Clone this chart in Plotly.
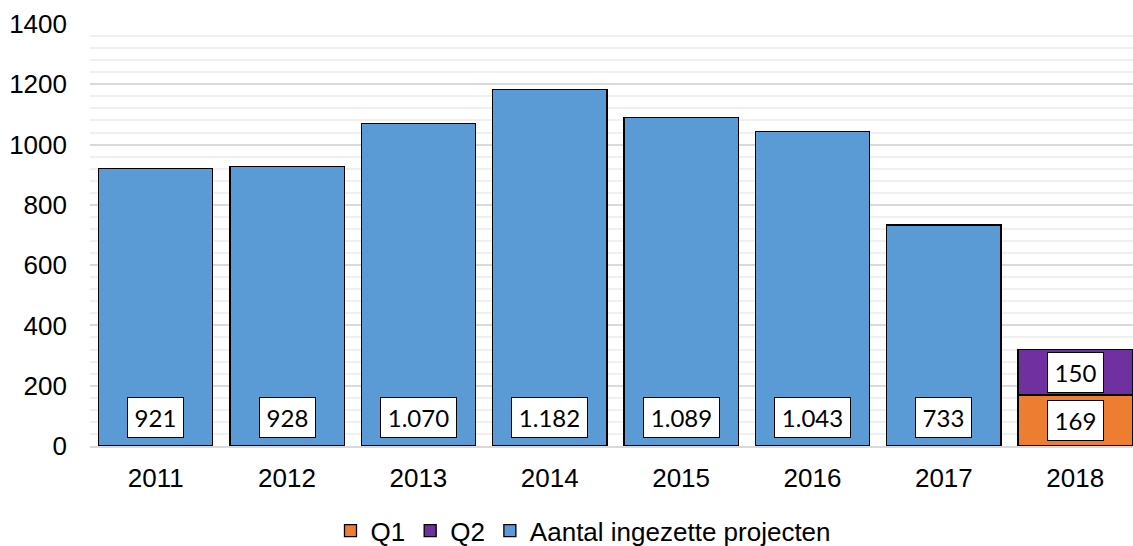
import plotly.graph_objects as go

years = ["2011", "2012", "2013", "2014", "2015", "2016", "2017", "2018"]
aantal_years = ["2011", "2012", "2013", "2014", "2015", "2016", "2017"]
aantal_values = [921, 928, 1070, 1182, 1089, 1043, 733]
q_years = ["2018"]
q1_values = [169]
q2_values = [150]
y_ticks = [0, 200, 400, 600, 800, 1000, 1200, 1400]

BLUE = "#5B9BD5"
ORANGE = "#ED7D31"
PURPLE = "#7030A0"


def nl(v):
    return f"{v:,}".replace(",", ".")


fig = go.Figure()
line = dict(color="#000000", width=1.3)
fig.add_trace(go.Bar(name="Q1", x=q_years, y=q1_values, marker=dict(color=ORANGE, line=line)))
fig.add_trace(go.Bar(name="Q2", x=q_years, y=q2_values, marker=dict(color=PURPLE, line=line)))
fig.add_trace(go.Bar(name="Aantal ingezette projecten", x=aantal_years, y=aantal_values,
                     marker=dict(color=BLUE, line=line)))

label_font = dict(family="Lato", size=24, color="#000000")

annotations = []


def box(x, y, text, yanchor="middle", yshift=0):
    w = 75 if len(text) > 3 else 55
    annotations.append(dict(x=years.index(x), y=y, text=text, showarrow=False,
                            xref="x", yref="y", yanchor=yanchor, yshift=yshift,
                            font=label_font, bgcolor="#FFFFFF", bordercolor="#000000",
                            borderwidth=1, borderpad=0, width=w, height=39))


for x, v in zip(aantal_years, aantal_values):
    box(x, 0, nl(v), yanchor="bottom", yshift=8)
for x, v1, v2 in zip(q_years, q1_values, q2_values):
    box(x, v1 / 2, nl(v1))
    box(x, v1 + v2 / 2, nl(v2))

axis_font = dict(family="Liberation Sans, Arial", size=26, color="#000000")

fig.update_layout(
    width=1133, height=546,
    barmode="stack", bargap=0.13,
    paper_bgcolor="#FFFFFF", plot_bgcolor="#FFFFFF",
    margin=dict(l=90, r=0, t=24, b=100, autoexpand=False),
    font=axis_font,
    showlegend=True,
    annotations=annotations,
    legend=dict(orientation="h", xref="container", yref="container",
                x=0.515, xanchor="center", y=0.028, yanchor="middle",
                font=axis_font, traceorder="normal", itemwidth=30,
                bgcolor="rgba(0,0,0,0)"),
    xaxis=dict(type="category", categoryorder="array", categoryarray=years,
               range=[-0.5, 7.44], showgrid=False, showline=True,
               linecolor="#D9D9D9", linewidth=2, ticks="", tickfont=axis_font,
               ticklabelstandoff=8),
    yaxis=dict(range=[0, 1400], tickvals=y_ticks, showgrid=True,
               gridcolor="#D9D9D9", gridwidth=1.5, zeroline=False,
               tickfont=axis_font, ticks="", ticklabelstandoff=22,
               minor=dict(dtick=40, showgrid=True, gridcolor="#F0F0F0", gridwidth=1.5)),
)

fig.write_html("out.html", config={"displayModeBar": False},
               post_script="document.body.style.margin='0';")
